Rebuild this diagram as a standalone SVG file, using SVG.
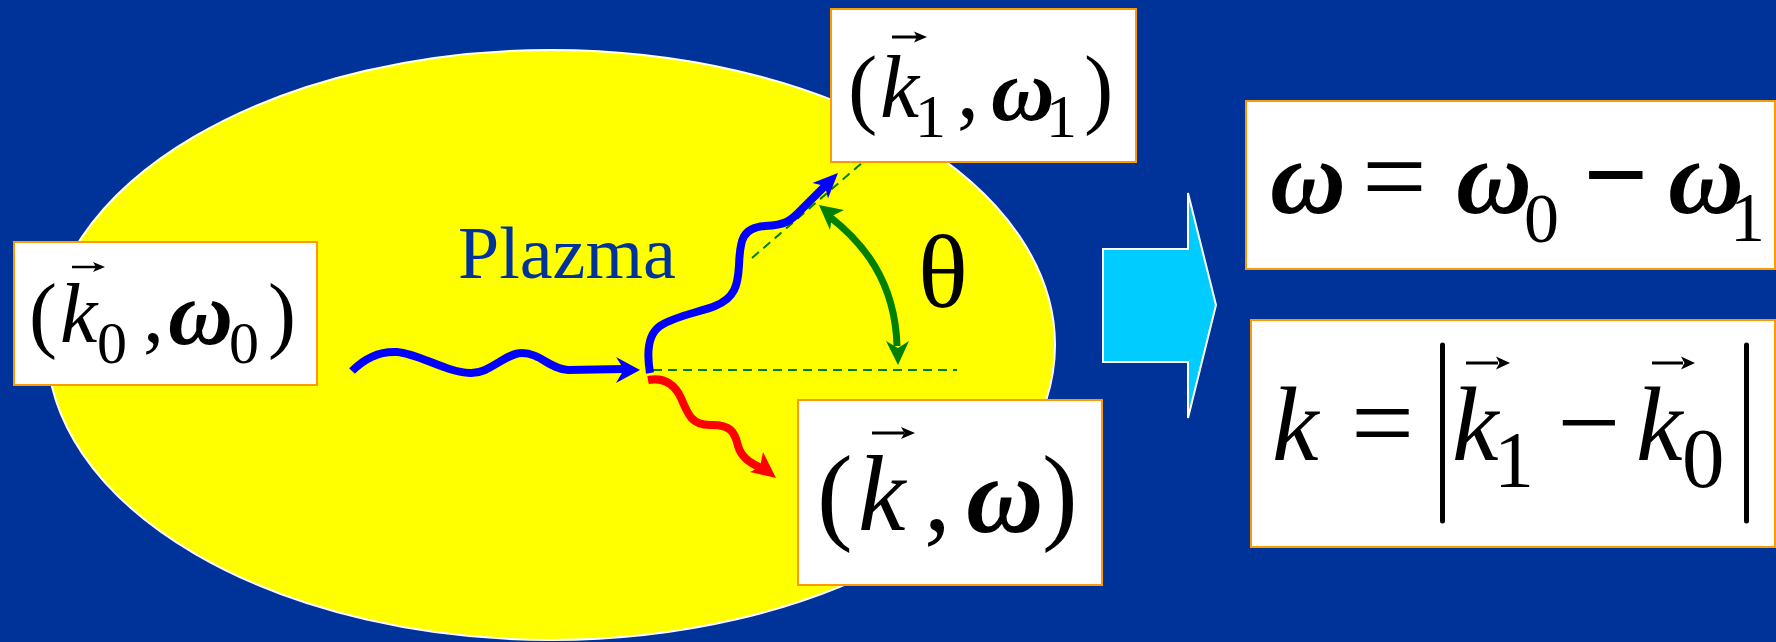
<svg xmlns="http://www.w3.org/2000/svg" width="1776" height="642" viewBox="0 0 1776 642">
<defs>
<style>
.m{font-family:"Liberation Serif","Times New Roman",serif;fill:#000}
.i{font-style:italic}
.w{font-style:italic;font-weight:bold}
.box{fill:#fff;stroke:#FF9900;stroke-width:2}
.vl{stroke:#000;stroke-width:3;fill:none}
.vh{fill:#000;stroke:none}
.dash{stroke:#008000;stroke-width:2;stroke-dasharray:9 6;fill:none}
.wb{stroke:#0000FF;stroke-width:8;fill:none}
.wr{stroke:#FF0000;stroke-width:8;fill:none}
.wg{stroke:#008000;stroke-width:7;fill:none}
</style>
</defs>
<rect width="1776" height="642" fill="#003399"/>

<g id="plasma">
<ellipse cx="551" cy="345" rx="504" ry="295" fill="#FFFF00" stroke="#fff" stroke-width="2"/>
<text class="m" x="458" y="278" font-size="74" style="fill:#003399">Plazma</text>
</g>

<g id="connectors">
<path class="dash" d="M653,370 H957"/>
<path class="dash" d="M752,258 L863,162"/>
<path class="wb" d="M352,371 C365,358 380,351 397,352 C420,354 445,372 470,373 C490,374 505,353 522,353 C540,353 550,369 568,370 L624,369"/>
<polygon fill="#0000FF" points="640,370 616,357 624,369.5 616,383"/>
<path class="wb" d="M650,373 C647,355 647,335 660,326 C675,316 700,312 715,306 C735,298 738,285 739,265 C740,240 742,228 765,226 C785,225 790,222 803,208 L826,185"/>
<polygon fill="#0000FF" points="838,173 812.5,183 825,186 828,198.5"/>
<path class="wr" d="M648,380 C665,377 675,385 681,398 C688,415 692,425 710,425 C730,424 735,432 738,446 C741,456 748,462 761,468"/>
<polygon fill="#FF0000" points="776,478 750,472 760,467 763,452"/>
<path class="wg" d="M830,217 C862,242 895,280 897,346"/>
<polygon fill="#008000" points="819,205 844,210 832,216 830,230"/>
<polygon fill="#008000" points="898,365 886,341 898,348 909,341"/>
<text class="m" x="918" y="307" font-size="104">θ</text>
</g>

<g id="node-k0">
<rect class="box" x="14" y="242" width="303" height="143"/>
<text class="m" font-size="84" y="342"><tspan x="29">(</tspan><tspan x="60" class="i">k</tspan><tspan x="97" y="363" font-size="60">0</tspan><tspan x="143" y="342">,</tspan><tspan x="168" y="344" class="w" font-size="90">ω</tspan><tspan x="229" y="363" font-size="60">0</tspan><tspan x="268" y="342">)</tspan></text>
<path class="vl" style="stroke-width:2.5" d="M72,267 H96"/><path class="vh" d="M105,267 l-12,-5 3,5 -3,5z"/>
</g>

<g id="node-k1">
<rect class="box" x="831" y="9" width="305" height="153"/>
<text class="m" font-size="88" y="117"><tspan x="848">(</tspan><tspan x="880" class="i">k</tspan><tspan x="915" y="137" font-size="62">1</tspan><tspan x="957" y="117">,</tspan><tspan x="991" y="120" class="w">ω</tspan><tspan x="1046" y="137" font-size="62">1</tspan><tspan x="1084" y="117">)</tspan></text>
<path class="vl" d="M892,37 H917"/><path class="vh" d="M927,37 l-13,-5.5 3,5.5 -3,5.5z"/>
</g>

<g id="node-k">
<rect class="box" x="798" y="400" width="304" height="185"/>
<text class="m" font-size="107" y="530"><tspan x="817">(</tspan><tspan x="858" class="i">k</tspan><tspan x="924">,</tspan><tspan x="966" y="532" class="w">ω</tspan><tspan x="1042" y="530">)</tspan></text>
<path class="vl" d="M872,433 H904"/><path class="vh" d="M915,433 l-14,-6 3.5,6 -3.5,6z"/>
</g>

<g id="arrow">
<polygon points="1103,249 1188,249 1188,193 1216,305 1188,418 1188,362 1103,362" fill="#00CCFF" stroke="#fff" stroke-width="2"/>
</g>

<g id="node-omega-eq">
<rect class="box" x="1246" y="101" width="529" height="168"/>
<text class="m" font-size="105" y="213"><tspan x="1270" class="w">ω</tspan><tspan x="1362" y="215" font-size="115">=</tspan><tspan x="1456" y="213" class="w">ω</tspan><tspan x="1524" y="242" font-size="70">0</tspan><tspan x="1583" y="213" font-size="115" font-weight="bold">−</tspan><tspan x="1668" y="213" class="w">ω</tspan><tspan x="1730" y="241" font-size="70">1</tspan></text>
</g>

<g id="node-k-eq">
<rect class="box" x="1251" y="320" width="524" height="227"/>
<text class="m" font-size="105" y="460"><tspan x="1272" class="i">k</tspan><tspan x="1351" font-size="112">=</tspan><tspan x="1452" class="i">k</tspan><tspan x="1494" y="487" font-size="80">1</tspan><tspan x="1557" y="460" font-size="112">−</tspan><tspan x="1636" y="460" class="i">k</tspan><tspan x="1682" y="487" font-size="85">0</tspan></text>
<line x1="1442.5" y1="345" x2="1442.5" y2="521" stroke="#000" stroke-width="5" stroke-linecap="round"/>
<line x1="1746.5" y1="345" x2="1746.5" y2="521" stroke="#000" stroke-width="5" stroke-linecap="round"/>
<path class="vl" d="M1466,363 H1498"/><path class="vh" d="M1510,363 l-14,-6.5 3.5,6.5 -3.5,6.5z"/>
<path class="vl" d="M1652,363 H1683"/><path class="vh" d="M1695,363 l-14,-6.5 3.5,6.5 -3.5,6.5z"/>
</g>
</svg>
